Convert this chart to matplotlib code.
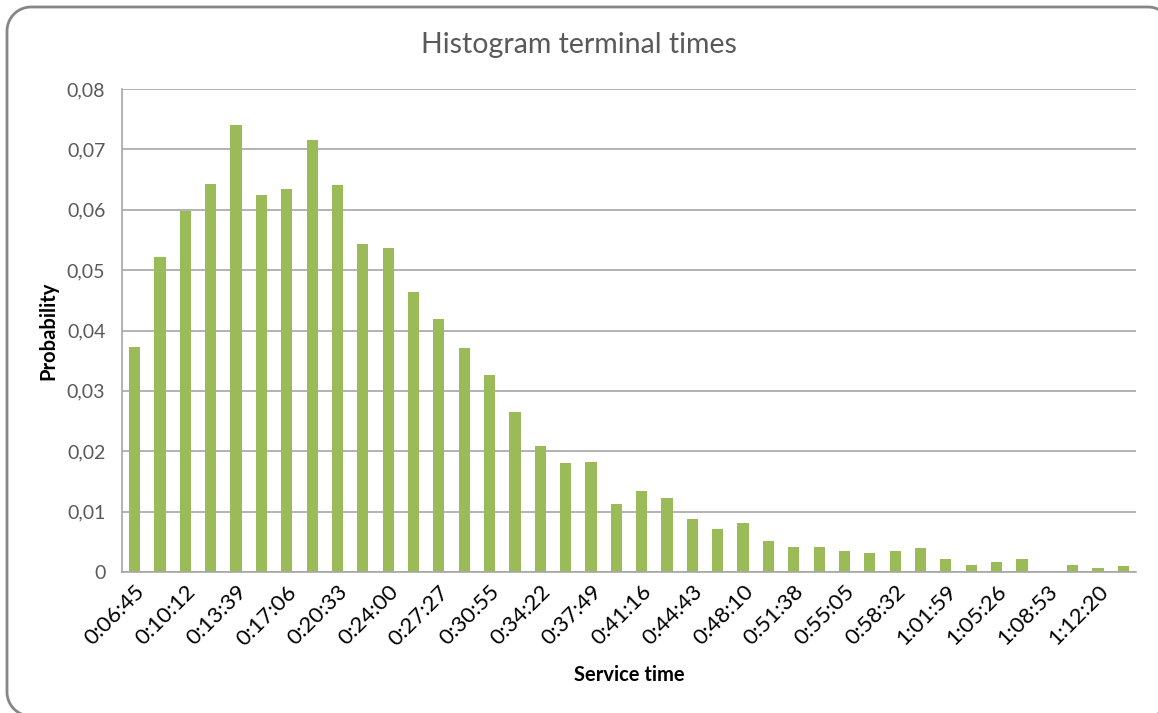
import matplotlib
matplotlib.use("Agg")
import matplotlib.pyplot as plt
from matplotlib.patches import PathPatch
from matplotlib.path import Path
from matplotlib.transforms import Affine2D
from matplotlib.ticker import MultipleLocator, FuncFormatter
import numpy as np

plt.rcParams["font.family"] = ["Lato", "DejaVu Sans"]

# bin start (service time) and probability per bin
bins = [
    "0:06:45", "0:08:28", "0:10:12", "0:11:55", "0:13:39", "0:15:22", "0:17:06", "0:18:49",
    "0:20:33", "0:22:16", "0:24:00", "0:25:43", "0:27:27", "0:29:11", "0:30:55", "0:32:38",
    "0:34:22", "0:36:05", "0:37:49", "0:39:32", "0:41:16", "0:42:59", "0:44:43", "0:46:26",
    "0:48:10", "0:49:54", "0:51:38", "0:53:21", "0:55:05", "0:56:48", "0:58:32", "1:00:15",
    "1:01:59", "1:03:42", "1:05:26", "1:07:09", "1:08:53", "1:10:36", "1:12:20", "1:14:03",
]
prob = [
    0.0372, 0.0522, 0.0598, 0.0643, 0.0741, 0.0625, 0.0634, 0.0716,
    0.0641, 0.0543, 0.0537, 0.0464, 0.0419, 0.0371, 0.0326, 0.0265,
    0.0208, 0.0181, 0.0183, 0.0112, 0.0134, 0.0123, 0.0087, 0.0072,
    0.0081, 0.0051, 0.0041, 0.0042, 0.0035, 0.0032, 0.0034, 0.0040,
    0.0021, 0.0012, 0.0016, 0.0021, 0.0, 0.0012, 0.0007, 0.0010,
]

GREEN = "#9bbb59"
GRID = "#a6a6a6"
TXT = "#595959"

W, H = 1158, 713
fig = plt.figure(figsize=(W / 100, H / 100), dpi=100)
ax = fig.add_axes([122 / W, 1 - 572 / H, (1136 - 122) / W, (572 - 89) / H])

x = np.arange(len(bins))
ax.bar(x, prob, width=0.44, color=GREEN, zorder=2)

ax.set_xlim(-0.5, len(bins) - 0.5)
ax.set_ylim(0, 0.08)
ax.yaxis.set_major_locator(MultipleLocator(0.01))
ax.yaxis.set_major_formatter(FuncFormatter(
    lambda v, _: "0" if abs(v) < 1e-9 else f"{v:.2f}".replace(".", ",")))
ax.grid(axis="y", color=GRID, linewidth=1.2, zorder=0)

ax.set_xticks(x[::2])
ax.set_xticklabels(bins[::2], rotation=45, ha="right", rotation_mode="anchor")
ax.tick_params(axis="x", length=0, pad=7, labelsize=16, labelcolor="#000000")
ax.tick_params(axis="y", length=0, pad=12, labelsize=14, labelcolor=TXT)

for side in ("top", "right"):
    ax.spines[side].set_visible(False)
for side in ("left", "bottom"):
    ax.spines[side].set_color(GRID)
    ax.spines[side].set_linewidth(1.2)

ax.set_ylabel("Probability", fontsize=14.5, fontweight="bold", va="center")
ax.set_xlabel("Service time", fontsize=14.5, fontweight="bold", va="center")
ax.yaxis.set_label_coords((48 - 122) / 1014, (572 - 331) / 483)
ax.xaxis.set_label_coords((629 - 122) / 1014, (572 - 675) / 483)
fig.text(0.5, 1 - 45 / H, "Histogram terminal times", ha="center", va="center",
         fontsize=20.5, color=TXT)


# rounded chart frame, drawn in pixels from the top-left corner;
# right and bottom edges sit just past the canvas
def corner(cx, cy, r, a0, a1, n=24):
    a = np.radians(np.linspace(a0, a1, n))
    return np.column_stack([cx + r * np.cos(a), cy - r * np.sin(a)])


r = 24
l, t, rt, b = 7, 7, 1172, 716
pts = np.vstack([
    corner(l + r, t + r, r, 180, 90),
    corner(rt - r, t + r, r, 90, 0),
    corner(rt - r, b - r, r, 0, -90),
    corner(l + r, b - r, r, -90, -180),
    [[l, t + r]],
])
px = Affine2D().scale(1 / W, -1 / H).translate(0, 1) + fig.transFigure
frame = PathPatch(Path(pts), transform=px, fill=False,
                  edgecolor="#868686", linewidth=2, clip_on=False)
fig.patches.append(frame)

fig.savefig("out.png", dpi=100)
